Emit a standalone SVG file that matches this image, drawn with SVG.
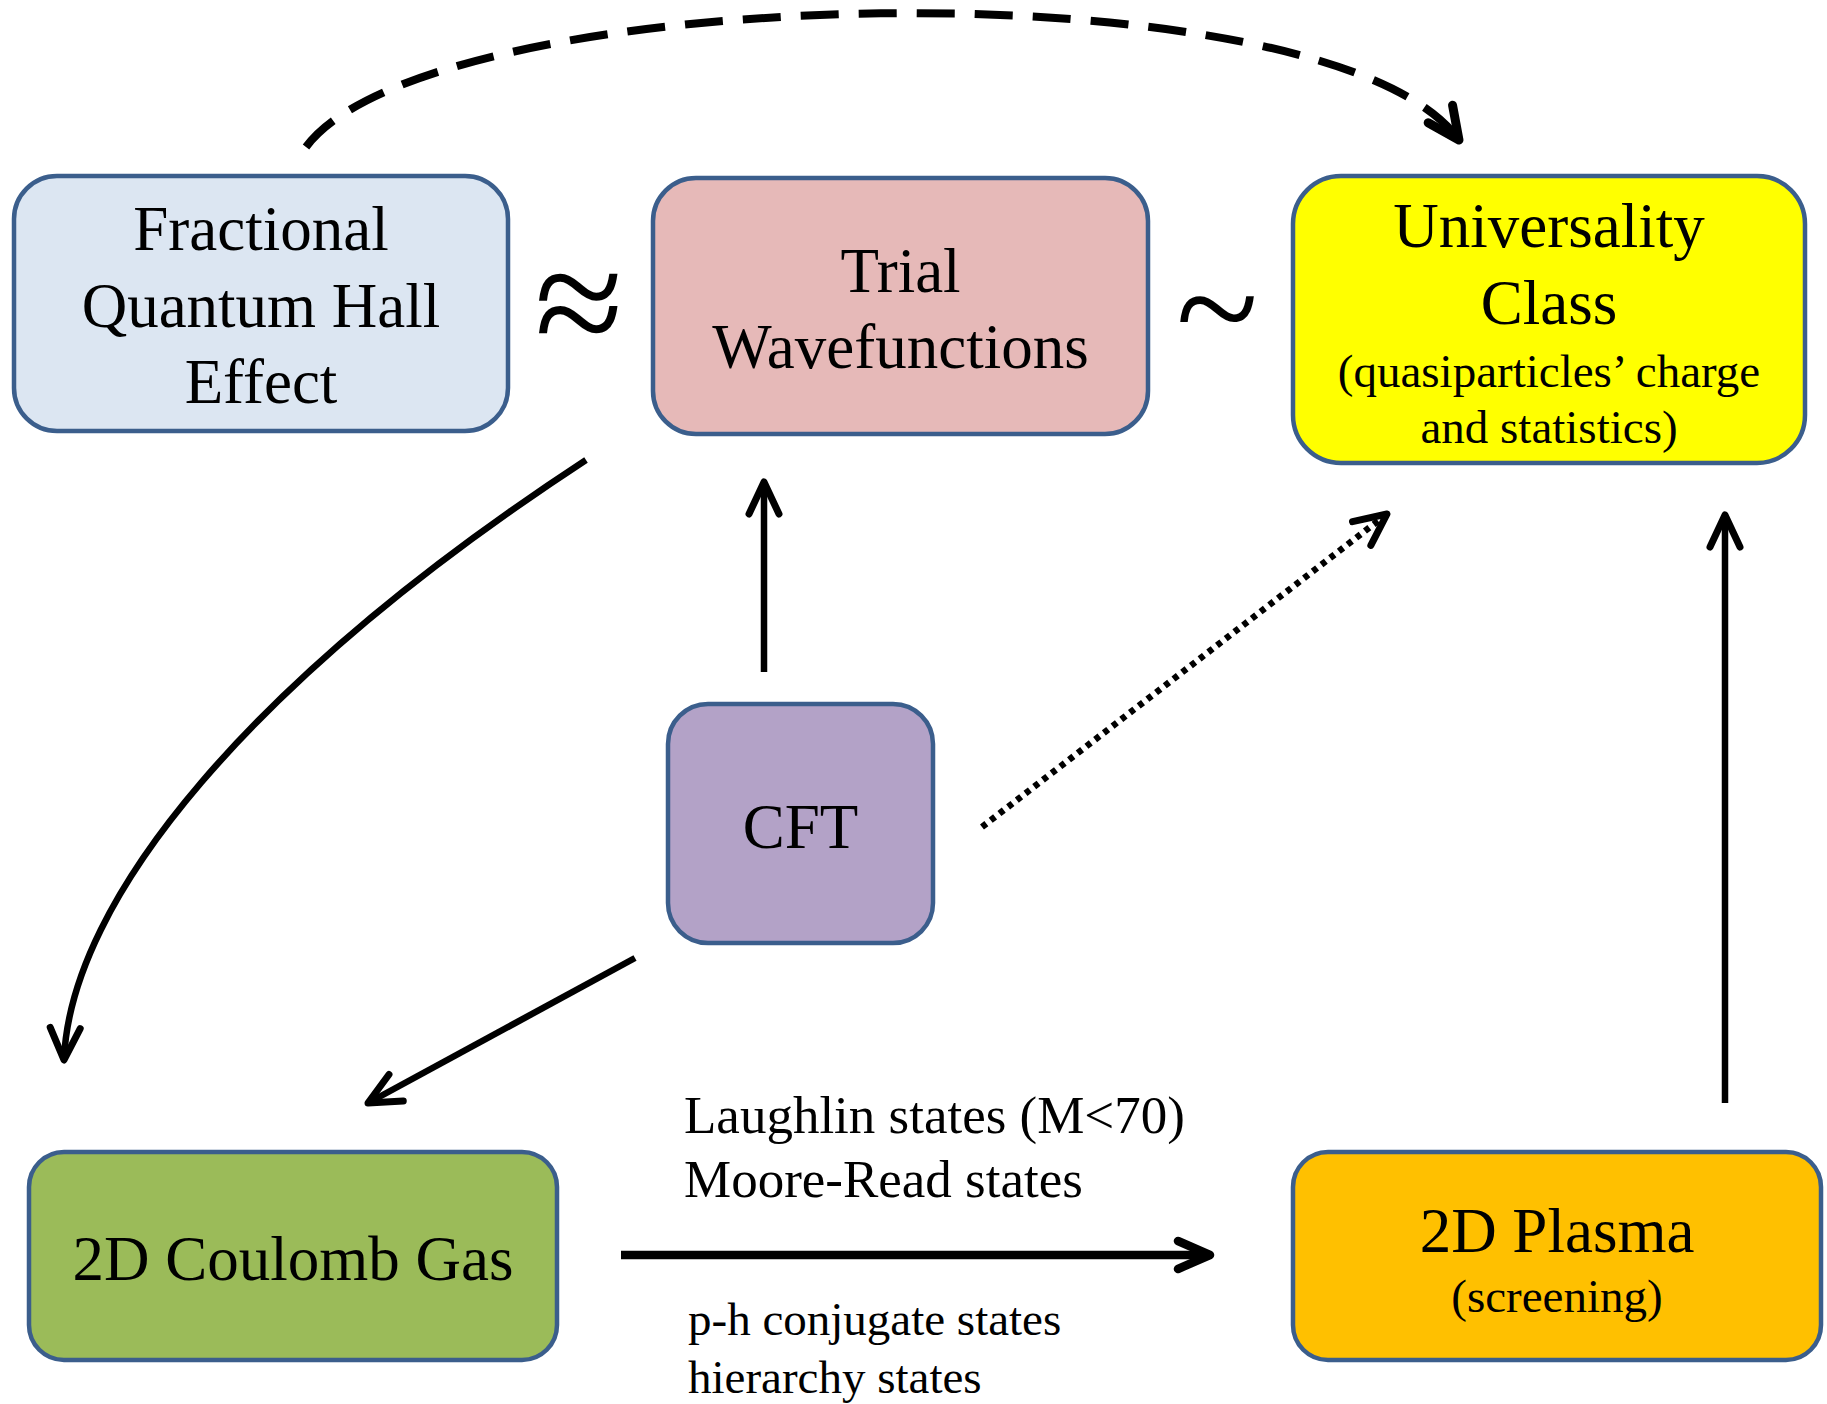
<svg xmlns="http://www.w3.org/2000/svg" width="1827" height="1404" viewBox="0 0 1827 1404">
<style>
  .box { stroke: #3B5E8C; stroke-width: 4.5; }
  .t { font-family: "Liberation Serif", "Times New Roman", serif; fill: #000; text-anchor: middle; }
  .big { font-size: 63px; }
  .small { font-size: 47px; }
  .lbl { font-family: "Liberation Serif", "Times New Roman", serif; fill: #000; }
  .conn { fill: none; stroke: #000; stroke-width: 6.5; }
  .thick { stroke-width: 8.5; }
  .dash { stroke-width: 8; stroke-dasharray: 38 20; }
  .dot { stroke-width: 6.5; stroke-dasharray: 5.5 5.5; }
</style>
<defs>
  <marker id="arr" markerUnits="userSpaceOnUse" orient="auto" refX="0" refY="0" markerWidth="50" markerHeight="50" viewBox="-45 -25 50 50" overflow="visible">
    <path d="M -32 -15 L 0 0 L -32 15" fill="none" stroke="#000" stroke-width="7" stroke-linecap="round" stroke-linejoin="round"/>
  </marker>
  <marker id="arrT" markerUnits="userSpaceOnUse" orient="auto" refX="0" refY="0" markerWidth="50" markerHeight="50" viewBox="-45 -25 50 50" overflow="visible">
    <path d="M -32 -14 L 0 0 L -32 14" fill="none" stroke="#000" stroke-width="8.5" stroke-linecap="round" stroke-linejoin="round"/>
  </marker>
  <marker id="arrD" markerUnits="userSpaceOnUse" orient="auto" refX="0" refY="0" markerWidth="50" markerHeight="50" viewBox="-45 -25 50 50" overflow="visible">
    <path d="M -32 -15 L 0 0 L -32 15" fill="none" stroke="#000" stroke-width="9" stroke-linecap="round" stroke-linejoin="round"/>
  </marker>
</defs>
<rect width="1827" height="1404" fill="#fff"/>

<g id="connectors">
  <path class="conn dash" d="M 306 147 C 430 -20, 1330 -40, 1459 140" marker-end="url(#arrD)"/>
  <path class="conn" d="M 586 460 C 250 680, 70 900, 64 1060" marker-end="url(#arr)"/>
  <path class="conn" d="M 764 672 L 764 482" marker-end="url(#arr)"/>
  <path class="conn dot" d="M 982 827 L 1387 514" marker-end="url(#arr)"/>
  <path class="conn" d="M 1725 1103 L 1725 515" marker-end="url(#arr)"/>
  <path class="conn" d="M 635 958 L 368 1103" marker-end="url(#arr)"/>
  <path class="conn thick" d="M 621 1255 L 1210 1255" marker-end="url(#arrT)"/>
</g>

<g id="fqhe">
  <rect class="box" x="14" y="176" width="494" height="255" rx="43" ry="43" fill="#DCE6F2"/>
  <text class="t big" x="261" y="250">Fractional</text>
  <text class="t big" x="261" y="327">Quantum Hall</text>
  <text class="t big" x="261" y="403">Effect</text>
</g>

<g id="approx">
  <text class="t" x="579" y="357" font-size="162">≈</text>
</g>

<g id="trial">
  <rect class="box" x="653" y="178" width="495" height="256" rx="43" ry="43" fill="#E6B9B8"/>
  <text class="t big" x="900.5" y="292">Trial</text>
  <text class="t big" x="900.5" y="368">Wavefunctions</text>
</g>

<g id="tilde">
  <text class="t" x="1217" y="359" font-size="152">~</text>
</g>

<g id="universality">
  <rect class="box" x="1293" y="176" width="512" height="287" rx="48" ry="48" fill="#FFFF00"/>
  <text class="t big" x="1549" y="247">Universality</text>
  <text class="t big" x="1549" y="324">Class</text>
  <text class="t small" x="1549" y="387">(quasiparticles’ charge</text>
  <text class="t small" x="1549" y="443">and statistics)</text>
</g>

<g id="cft">
  <rect class="box" x="668" y="704" width="265" height="239" rx="40" ry="40" fill="#B3A2C7"/>
  <text class="t big" x="800.5" y="848">CFT</text>
</g>

<g id="coulomb">
  <rect class="box" x="29" y="1152" width="528" height="208" rx="35" ry="35" fill="#9BBB59"/>
  <text class="t big" x="293" y="1280">2D Coulomb Gas</text>
</g>

<g id="plasma">
  <rect class="box" x="1293" y="1152" width="528" height="208" rx="35" ry="35" fill="#FFC000"/>
  <text class="t big" x="1557" y="1252">2D Plasma</text>
  <text class="t small" x="1557" y="1312">(screening)</text>
</g>

<g id="labels">
  <text class="lbl" x="684" y="1133" font-size="53">Laughlin states (M&lt;70)</text>
  <text class="lbl" x="684" y="1197" font-size="53">Moore-Read states</text>
  <text class="lbl" x="688" y="1335" font-size="47">p-h conjugate states</text>
  <text class="lbl" x="688" y="1393" font-size="47">hierarchy states</text>
</g>
</svg>
